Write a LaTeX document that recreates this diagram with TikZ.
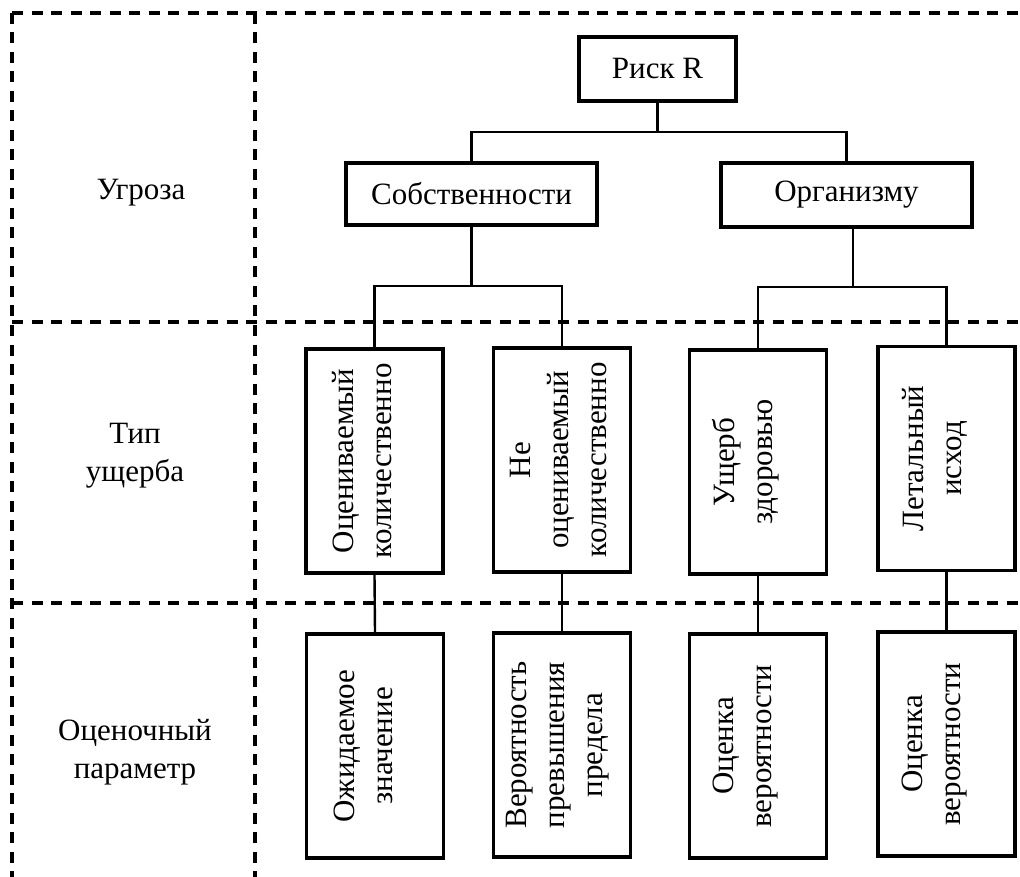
\documentclass[tikz,border=0pt]{standalone}
\usepackage{fontspec}
\setmainfont{Liberation Serif}
\newcommand\diagfont{\fontsize{31}{38}\selectfont}
\begin{document}
\begin{tikzpicture}[x=1pt,y=-1pt,
  hbox/.style={draw, line width=3.2pt, inner sep=0pt, font=\diagfont},
  vbox/.style={draw, line width=3.2pt, inner sep=0pt,
    minimum width=137pt, minimum height=224pt},
  vtext/.style={rotate=90, align=center, inner sep=0pt, font=\diagfont},
  lbl/.style={align=center, inner sep=0pt, font=\diagfont},
  grid/.style={line width=3.2pt, dash pattern=on 11pt off 8.5pt},
  link/.style={line width=2.4pt}]
\useasboundingbox (0,0) rectangle (1020,877);

% table frame
\draw[grid] (12,13) -- (1020,13);
\draw[grid] (12,13) -- (12,877);
\draw[grid] (255,13) -- (255,877);
\draw[grid] (12,322) -- (1020,322);
\draw[grid] (12,603) -- (1020,603);

% row captions
\node[lbl] (l1) at (141,193) {Угроза};
\node[lbl] (l2) at (135,456) {Тип\\ущерба};
\node[lbl] (l3) at (135,752) {Оценочный\\параметр};

% top levels
\node[hbox, minimum width=157pt, minimum height=64pt] (risk) at (657.5,69) {Риск R};
\node[hbox, minimum width=251pt, minimum height=62pt] (sob) at (471.5,194) {Собственности};
\node[hbox, minimum width=251pt, minimum height=64pt] (org) at (846.5,195) {Организму};

% damage types
\node[vbox] (b1) at (374.5,461) {};
\node[vbox] (b2) at (562,460) {};
\node[vbox] (b3) at (758,462) {};
\node[vbox] (b4) at (946.5,458.5) {};
\node[vtext] (t1) at ([xshift=-12pt]b1.center) {Оцениваемый\\количественно};
\node[vtext] (t2) at ([xshift=-4pt]b2.center) {Не\\оцениваемый\\количественно};
\node[vtext] (t3) at ([xshift=-12pt]b3.center) {Ущерб\\здоровью};
\node[vtext] (t4) at ([xshift=-12pt]b4.center) {Летальный\\исход};

% evaluation parameters
\node[vbox] (c1) at (375,746) {};
\node[vbox] (c2) at (562,745) {};
\node[vbox] (c3) at (758,746) {};
\node[vbox] (c4) at (946.5,744) {};
\node[vtext] (s1) at ([xshift=-12pt]c1.center) {Ожидаемое\\значение};
\node[vtext] (s2) at ([xshift=-4pt]c2.center) {Вероятность\\превышения\\предела};
\node[vtext] (s3) at ([xshift=-12pt]c3.center) {Оценка\\вероятности};
\node[vtext] (s4) at ([xshift=-12pt]c4.center) {Оценка\\вероятности};

% connectors
\coordinate (j0) at (risk.south |- 0,132);
\draw[link] (risk.south) -- (j0);
\draw[link] (j0) -| (sob.north);
\draw[link] (j0) -| (org.north);

\coordinate (j1) at (sob.south |- 0,286);
\draw[link] (sob.south) -- (j1);
\draw[link] (j1) -| (b1.north);
\draw[link] (j1) -| (b2.north);

\coordinate (o1) at (853,0 |- org.south);
\coordinate (j2) at (853,287);
\draw[link] (o1) -- (j2);
\draw[link] (j2) -| (b3.north);
\draw[link] (j2) -| (b4.north);

\draw[link] (b1.south) -- (c1.north);
\draw[link] (b2.south) -- (c2.north);
\draw[link] (b3.south) -- (c3.north);
\draw[link] (b4.south) -- (c4.north);
\end{tikzpicture}
\end{document}
